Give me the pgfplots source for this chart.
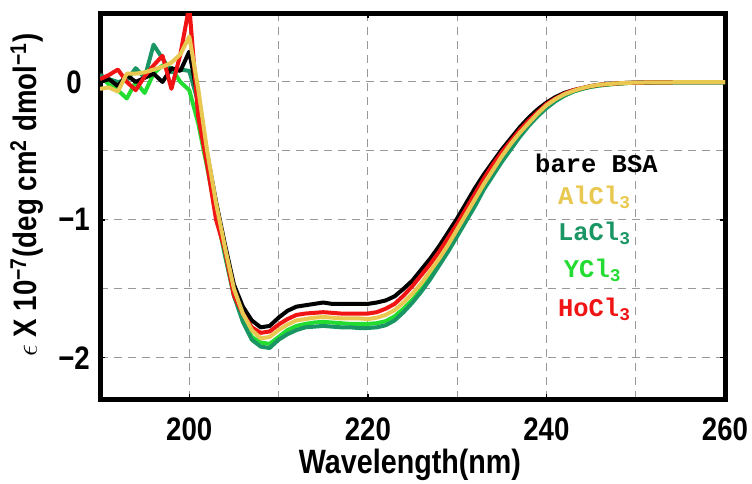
\documentclass[border=0pt]{standalone}
\usepackage{fontspec}
\setmainfont{Liberation Sans}[FakeStretch=0.85]
\newfontfamily\legfont{Liberation Mono}
\usepackage{pgfplots}
\pgfplotsset{compat=1.18}
\usetikzlibrary{calc}

\definecolor{cblack}{RGB}{0,0,0}
\definecolor{calcl}{RGB}{232,200,80}
\definecolor{cla}{RGB}{25,150,100}
\definecolor{cy}{RGB}{35,220,50}
\definecolor{cho}{RGB}{240,20,20}

% wavelength (nm), molar ellipticity x 1e-7
\pgfplotstableread{
x     bsa     al      la      y       ho
190   0.00   -0.05    0.05    0.05    0.02
191   0.02   -0.04    0.02   -0.02    0.05
192  -0.03   -0.07    0.00   -0.06    0.09
193   0.05    0.06    0.01   -0.12    0.00
194   0.00    0.06    0.10    0.00   -0.06
195   0.03    0.07    0.03   -0.08    0.04
196   0.06    0.09    0.27    0.06    0.12
197   0.00    0.11    0.17    0.12    0.19
198   0.10    0.14    0.07    0.10   -0.05
199   0.08    0.20    0.09    0.00    0.20
200   0.22    0.33    0.08   -0.06    0.55
201  -0.13   -0.05   -0.15   -0.30   -0.25
202  -0.52   -0.50   -0.55   -0.62   -0.60
203  -0.87   -0.88   -0.92   -0.95   -1.00
204  -1.18   -1.20   -1.25   -1.26   -1.22
205  -1.47   -1.50   -1.55   -1.55   -1.55
206  -1.63   -1.68   -1.74   -1.72   -1.68
207  -1.73   -1.80   -1.87   -1.85   -1.78
208  -1.78   -1.86   -1.92   -1.89   -1.82
209  -1.77   -1.85   -1.93   -1.90   -1.81
210  -1.71   -1.80   -1.87   -1.85   -1.76
211  -1.66   -1.76   -1.83   -1.80   -1.72
212  -1.63   -1.73   -1.80   -1.77   -1.69
213  -1.62   -1.72   -1.78   -1.755  -1.68
214  -1.61   -1.71   -1.775  -1.745  -1.675
215  -1.60   -1.705  -1.77   -1.74   -1.67
216  -1.61   -1.71   -1.775  -1.745  -1.675
217  -1.61   -1.715  -1.78   -1.75   -1.68
218  -1.61   -1.715  -1.78   -1.755  -1.68
219  -1.61   -1.715  -1.785  -1.755  -1.68
220  -1.61   -1.72   -1.785  -1.755  -1.68
221  -1.60   -1.71   -1.78   -1.75   -1.67
222  -1.585  -1.69   -1.765  -1.735  -1.645
223  -1.555  -1.655  -1.73   -1.70   -1.61
224  -1.50   -1.60   -1.67   -1.645  -1.55
225  -1.44   -1.535  -1.60   -1.58   -1.48
226  -1.36   -1.46   -1.52   -1.50   -1.40
227  -1.28   -1.37   -1.43   -1.41   -1.32
228  -1.19   -1.28   -1.33   -1.31   -1.23
229  -1.09   -1.18   -1.23   -1.21   -1.13
230  -0.99   -1.07   -1.12   -1.10   -1.03
231  -0.88   -0.96   -1.01   -0.99   -0.92
232  -0.77   -0.85   -0.90   -0.88   -0.81
233  -0.67   -0.74   -0.78   -0.77   -0.70
234  -0.58   -0.64   -0.68   -0.67   -0.60
235  -0.49   -0.54   -0.58   -0.57   -0.51
236  -0.41   -0.45   -0.49   -0.48   -0.43
237  -0.33   -0.37   -0.40   -0.39   -0.35
238  -0.26   -0.30   -0.32   -0.31   -0.28
239  -0.20   -0.23   -0.25   -0.245  -0.22
240  -0.15   -0.17   -0.19   -0.185  -0.16
241  -0.11   -0.125  -0.14   -0.135  -0.12
242  -0.08   -0.09   -0.10   -0.10   -0.085
243  -0.06   -0.065  -0.07   -0.07   -0.06
244  -0.045  -0.045  -0.05   -0.05   -0.045
245  -0.03   -0.03   -0.035  -0.035  -0.03
246  -0.02   -0.02   -0.025  -0.025  -0.02
247  -0.015  -0.015  -0.018  -0.018  -0.015
248  -0.01   -0.01   -0.012  -0.012  -0.01
249  -0.007  -0.007  -0.008  -0.008  -0.007
250  -0.005  -0.005  -0.006  -0.006  -0.005
252  -0.003  -0.003  -0.004  -0.004  -0.003
255  -0.002  -0.002  -0.003  -0.003  -0.002
260  -0.002  -0.002  -0.003  -0.003  -0.002
}\cddata

\begin{document}
\begin{tikzpicture}
\begin{axis}[name=ax,
  scale only axis, width=250pt, height=154.4pt,
  xmin=190, xmax=260, ymin=-2.3, ymax=0.5,
  xtick={200,220,240,260}, xticklabels={200,220,240,260},
  minor xtick={210,230,250},
  ytick={-2,-1,0}, yticklabels={−2,−1,0},
  minor ytick={-1.5,-0.5},
  grid=both,
  major grid style={gray!80, dash pattern=on 3.2pt off 2.4pt, line width=0.45pt},
  minor grid style={gray!80, dash pattern=on 3.2pt off 2.4pt, line width=0.45pt},
  axis line style={line width=2pt},
  tick style={black, line width=0.6pt},
  major tick length=2pt, minor tick length=0pt,
  tick label style={font=\fontsize{13}{15}\selectfont\bfseries},
  yticklabel style={anchor=center, xshift=-10.4pt},
  xticklabel style={yshift=-3.8pt},
  xlabel={Wavelength(nm)},
  xlabel style={font=\fontsize{13.5}{16}\selectfont\bfseries, at={(axis description cs:0.496,-0.1917)}, anchor=base},
  ylabel={$\epsilon$ X 10\textsuperscript{−7}(deg cm\textsuperscript{2} dmol\textsuperscript{−1})},
  ylabel style={font=\fontsize{13}{15}\selectfont\bfseries, at={(axis description cs:-0.1008,0.5285)}, anchor=base},
  clip=true,
  every axis plot/.append style={line width=1.6pt, line join=round},
]
\addplot[cy] table[x=x, y=y] {\cddata};
\addplot[cla] table[x=x, y=la] {\cddata};
\addplot[cblack] table[x=x, y=bsa] {\cddata};
\addplot[cho] table[x=x, y=ho] {\cddata};
\addplot[calcl] table[x=x, y=al] {\cddata};

\node[anchor=base, text=cblack, font=\legfont\fontsize{10.2}{12}\selectfont\bfseries] at (axis cs:245.6,-0.660) {bare BSA};
\node[anchor=base, text=calcl, font=\legfont\fontsize{10.2}{12}\selectfont\bfseries] at (axis cs:245.4,-0.892) {AlCl\textsubscript{3}};
\node[anchor=base, text=cla, font=\legfont\fontsize{10.2}{12}\selectfont\bfseries] at (axis cs:245.4,-1.153) {LaCl\textsubscript{3}};
\node[anchor=base, text=cy, font=\legfont\fontsize{10.2}{12}\selectfont\bfseries] at (axis cs:245.2,-1.422) {YCl\textsubscript{3}};
\node[anchor=base, text=cho, font=\legfont\fontsize{10.2}{12}\selectfont\bfseries] at (axis cs:245.4,-1.705) {HoCl\textsubscript{3}};
\end{axis}
\pgfresetboundingbox
\path[use as bounding box] ($(ax.south west)+(-40pt,-33.6pt)$) rectangle ($(ax.north east)+(10.8pt,5.2pt)$);
\end{tikzpicture}
\end{document}
